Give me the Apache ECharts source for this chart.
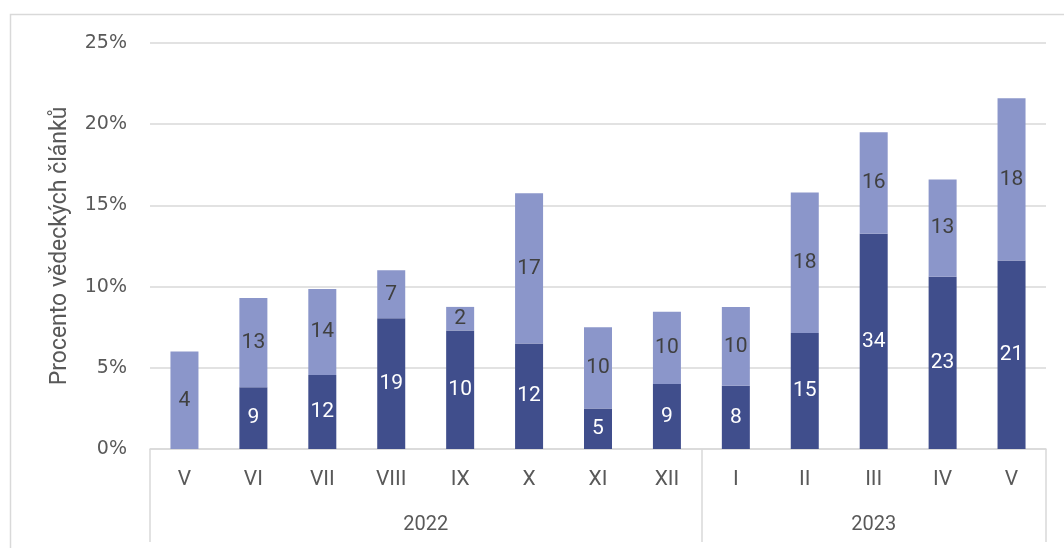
<!DOCTYPE html>
<html>
<head>
<meta charset="utf-8">
<script src="https://cdn.jsdelivr.net/npm/echarts@6/dist/echarts.min.js"></script>
<style>
html,body{margin:0;padding:0;background:#fff;}
#chart{width:1064px;height:548px;}
</style>
</head>
<body>
<div id="chart"></div>
<script>
var months = ['V','VI','VII','VIII','IX','X','XI','XII','I','II','III','IV','V'];
var years = ['2022','2023'];
var monthsPerYear = [8,5];
var yTicks = [0,5,10,15,20,25];
// percentage heights of stacked segments
var darkPct = [0, 3.8, 4.55, 8.05, 7.3, 6.5, 2.5, 4.0, 3.9, 7.15, 13.25, 10.6, 11.6];
var lightPct = [6.0, 5.5, 5.3, 2.95, 1.45, 9.25, 5.0, 4.45, 4.85, 8.65, 6.25, 6.0, 10.0];
// counts shown as labels
var darkCount = [null, 9, 12, 19, 10, 12, 5, 9, 8, 15, 34, 23, 21];
var lightCount = [4, 13, 14, 7, 2, 17, 10, 10, 10, 18, 16, 13, 18];

// build the half-step year axis (boundaryGap false, ticks every half month)
var total = monthsPerYear.reduce(function(a,b){return a+b;},0);
var yearAxisData = [];
for (var i = 0; i <= total*2; i++) yearAxisData.push('');
var boundaries = [0];
var acc = 0;
for (var k = 0; k < years.length; k++) {
  var mid = acc + monthsPerYear[k]/2;
  yearAxisData[Math.round(mid*2)] = years[k];
  acc += monthsPerYear[k];
  boundaries.push(acc*2);
}

var font = 'Roboto, "Noto Sans", sans-serif';
var wide = '"DejaVu Sans", Roboto, sans-serif';
var chart = echarts.init(document.getElementById('chart'));
chart.setOption({
  animation: false,
  textStyle: {fontFamily: font},
  graphic: [{
    type: 'rect', left: 8, top: 12,
    shape: {x: 8.5, y: 12.5, width: 1200, height: 700},
    style: {fill: 'none', stroke: '#d9d9d9', lineWidth: 1.5},
    silent: true
  }],
  grid: {left: 150, right: 18, top: 43, bottom: 99},
  xAxis: [{
    type: 'category',
    data: months,
    axisLine: {show: true, lineStyle: {color: '#d9d9d9', width: 1.5}},
    axisTick: {show: false},
    axisLabel: {color: '#595959', fontSize: 21, fontFamily: font, margin: 20, interval: 0}
  }, {
    type: 'category',
    position: 'bottom',
    boundaryGap: false,
    data: yearAxisData,
    axisLine: {show: false},
    axisTick: {
      show: true, length: 93, inside: false,
      interval: function (idx) { return boundaries.indexOf(idx) >= 0; },
      lineStyle: {color: '#d9d9d9', width: 1.5}
    },
    axisLabel: {color: '#595959', fontSize: 20, fontFamily: font, margin: 66, interval: 0},
    splitLine: {show: false}
  }],
  yAxis: {
    type: 'value',
    min: yTicks[0], max: yTicks[yTicks.length-1], interval: 5,
    name: 'Procento vědeckých článků',
    nameLocation: 'middle',
    nameGap: 78,
    nameTextStyle: {color: '#595959', fontSize: 23, fontFamily: font},
    axisLine: {show: false},
    axisTick: {show: false},
    axisLabel: {color: '#595959', fontSize: 19, fontFamily: wide, margin: 23, formatter: '{value}%'},
    splitLine: {lineStyle: {color: '#d9d9d9', width: 1.5}}
  },
  series: [{
    type: 'bar', stack: 's', xAxisIndex: 0,
    barWidth: 28,
    data: darkPct.map(function (v, i) { return {value: v, count: darkCount[i]}; }),
    itemStyle: {color: '#404E8C'},
    label: {
      show: true, position: 'inside', color: '#ffffff', fontSize: 21, fontFamily: font,
      formatter: function (p) { return p.data.count == null ? '' : String(p.data.count); }
    }
  }, {
    type: 'bar', stack: 's', xAxisIndex: 0,
    barWidth: 28,
    data: lightPct.map(function (v, i) { return {value: v, count: lightCount[i]}; }),
    itemStyle: {color: '#8B96CA'},
    label: {
      show: true, position: 'inside', color: '#404040', fontSize: 21, fontFamily: font,
      formatter: function (p) { return p.data.count == null ? '' : String(p.data.count); }
    }
  }]
});
</script>
</body>
</html>
